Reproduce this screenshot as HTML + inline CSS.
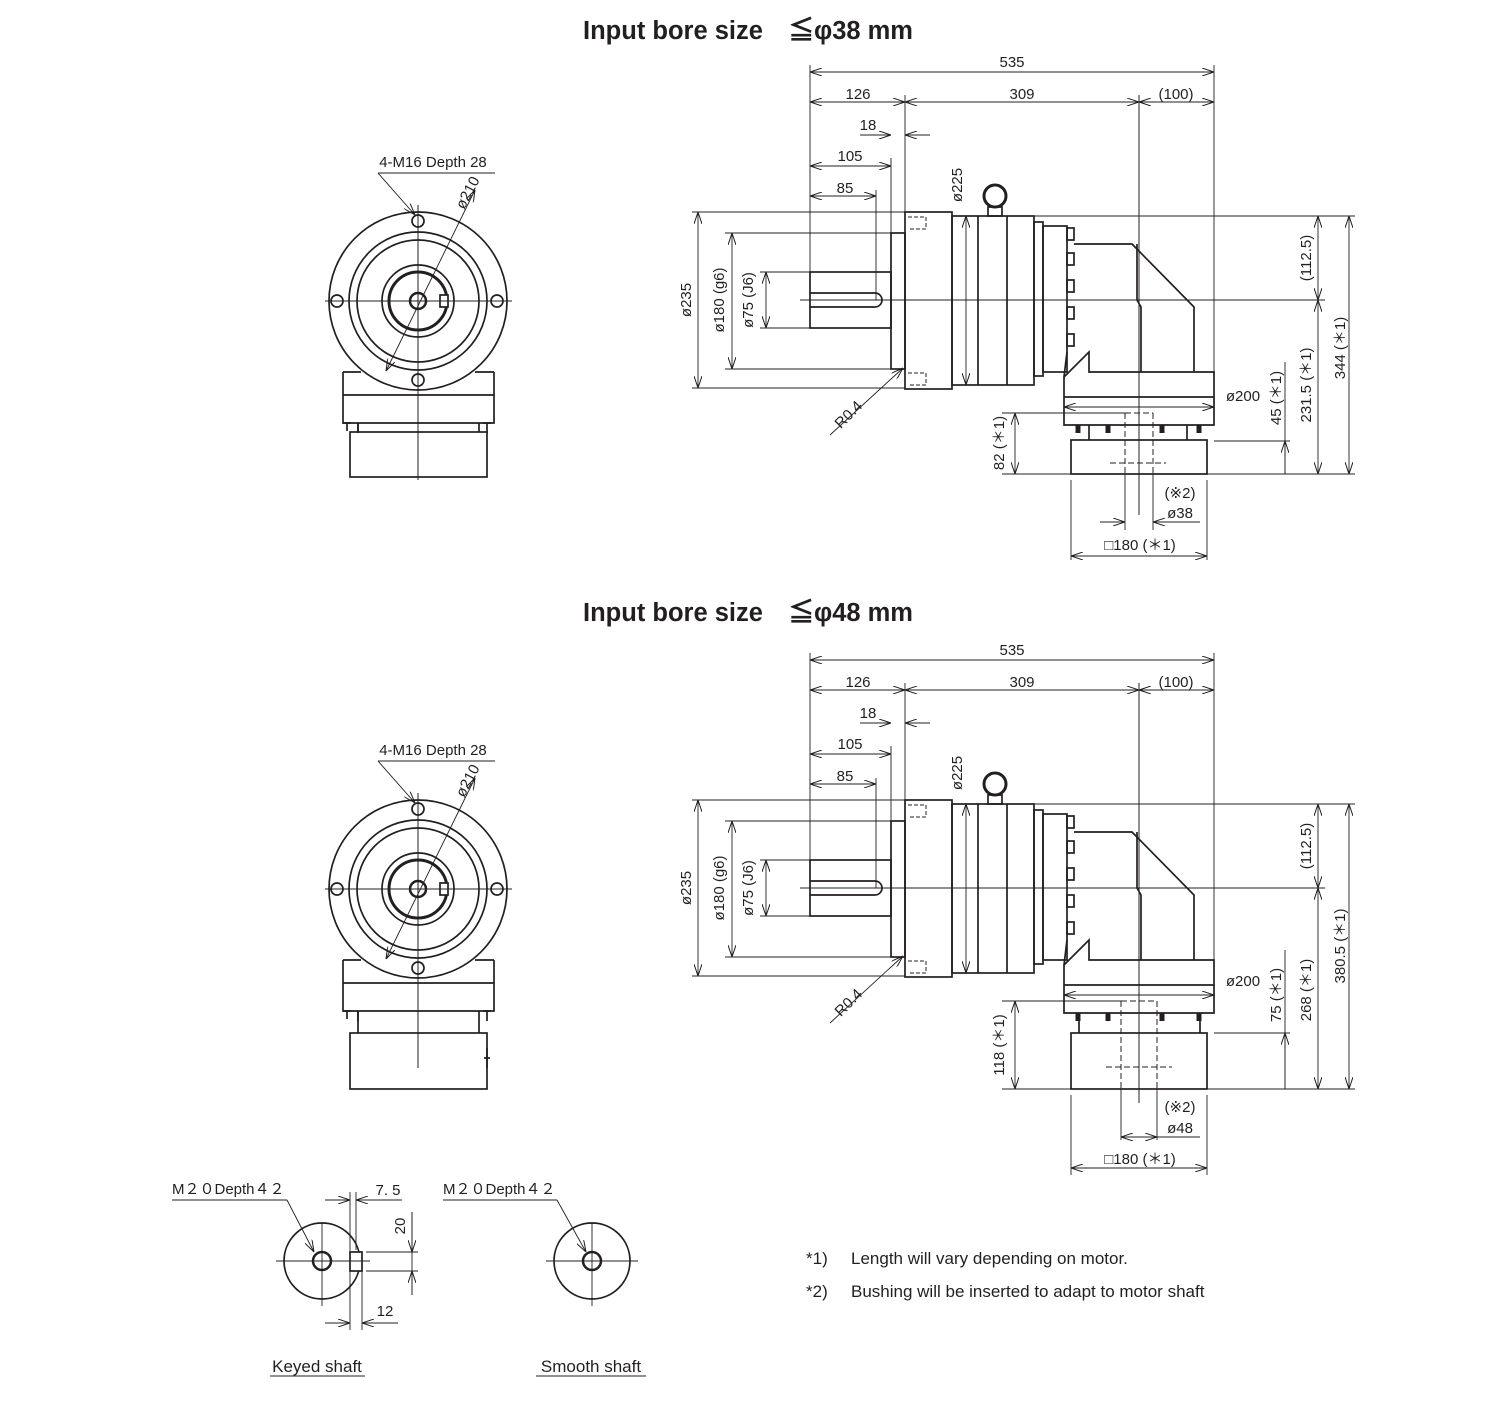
<!DOCTYPE html>
<html><head><meta charset="utf-8"><style>
html,body{margin:0;padding:0;background:#fff}
svg{display:block}
text{font-family:"Liberation Sans",sans-serif;fill:#231f20}
.d{font-size:15px}
.t{font-size:25.5px;font-weight:bold}
.n{font-size:17px}
.dd{marker-start:url(#a);marker-end:url(#a)}
.de{marker-end:url(#a)}
</style></head><body>
<svg width="1500" height="1404" viewBox="0 0 1500 1404" xmlns="http://www.w3.org/2000/svg">
<defs>
<marker id="a" viewBox="0 0 12 8" refX="12" refY="4" markerWidth="12" markerHeight="8" markerUnits="userSpaceOnUse" orient="auto-start-reverse"><path d="M0,0 L12,4 L0,8" fill="none" stroke="#231f20" stroke-width="1"/></marker>
<g id="common" fill="none" stroke="#231f20">
 <g stroke-width="1.7">
  <circle cx="418" cy="301" r="89"/>
  <circle cx="418" cy="301" r="69"/>
  <circle cx="418" cy="301" r="61"/>
  <circle cx="418" cy="301" r="36"/>
  <circle cx="418" cy="301" r="29" stroke-width="3"/>
  <circle cx="418" cy="301" r="8" stroke-width="2.5"/>
  <circle cx="418" cy="221" r="6"/><circle cx="418" cy="380" r="6"/>
  <circle cx="337" cy="301" r="6"/><circle cx="497" cy="301" r="6"/>
  <rect x="440" y="295" width="8" height="12" fill="#fff"/>
  <path d="M343,372 H361 M475,372 H494 M343,372 V423 H494 V372 M343,395 H494"/>
  <path d="M347,423 v8 M358,423 v10 M487,423 v10 M343,423 h8 M483,423 h8"/>
 </g>
 <path d="M418,205 V480 M325,301 H512" stroke-width="1"/>
 <path d="M378,173 H495" stroke-width="0.9"/>
 <path d="M378,173 L415,215" class="de" stroke-width="0.9"/>
 <path d="M386,371 L475,190" class="dd" stroke-width="0.9"/>
 <g stroke-width="1.7">
  <rect x="810" y="272" width="81" height="56"/>
  <path d="M810,293 H875 A7,7 0 0 1 875,307 H810"/>
  <rect x="891" y="233" width="14" height="136"/>
  <rect x="905" y="212" width="47" height="177"/>
  <rect x="952" y="216" width="82" height="169"/>
  <path d="M978,216 V385 M1007,216 V385"/>
  <circle cx="995" cy="196" r="11" stroke-width="3"/>
  <rect x="988" y="207" width="14" height="9"/>
  <rect x="1034" y="222" width="9" height="154"/>
  <rect x="1043" y="226" width="24" height="146"/>
  <rect x="1067" y="228" width="7" height="12"/><rect x="1067" y="253" width="7" height="12"/>
  <rect x="1067" y="280" width="7" height="12"/><rect x="1067" y="307" width="7" height="12"/>
  <rect x="1067" y="334" width="7" height="12"/>
  <path d="M1074,244 H1132 L1194,307 V372 H1214 V425 H1064 V377 L1089,352 V372 H1194"/>
  <path d="M1137,244 V300 L1141,307 V372"/>
  <path d="M1064,397 H1214"/>
  <path d="M1067,352 L1064,377"/>
 </g>
 <path d="M908,217 h18 v12 h-18 M908,373 h18 v12 h-18" stroke-dasharray="4,2"/>
 <path d="M800,300 H1325 M1139,95 V515" stroke-width="1"/>
 <g stroke-width="0.9">
  <path d="M810,65 V272 M891,158 V233 M905,95 V212 M1214,65 V425 M692,212 H905 M725,233 H891 M760,272 H810 M692,388 H905 M725,369 H891 M760,328 H810 M1034,216 H1355 M876,190 V300"/>
  <path class="dd" d="M810,72 H1214"/>
  <path class="dd" d="M810,102 H905"/>
  <path class="dd" d="M905,102 H1139"/>
  <path class="dd" d="M1139,102 H1214"/>
  <path class="dd" d="M810,166 H891"/>
  <path class="dd" d="M810,196 H876"/>
  <path class="dd" d="M698,212 V388"/>
  <path class="dd" d="M732,233 V369"/>
  <path class="dd" d="M766,272 V328"/>
  <path class="dd" d="M966,216 V385"/>
  <path class="dd" d="M1318,216 V300"/>
  <path class="dd" d="M1064,407 H1214"/>
  <path class="de" d="M860,135 H891"/>
  <path class="de" d="M930,135 H905"/>
  <path class="de" d="M830,435 L903,368"/>
 </g>
</g>
</defs>

<text class="t" x="748" y="39" text-anchor="middle">Input bore size　≦φ38 mm</text>
<text class="t" x="748" y="621" text-anchor="middle">Input bore size　≦φ48 mm</text>

<use href="#common"/>
<use href="#common" y="588"/>

<g fill="none" stroke="#231f20" stroke-width="1.7">
 <path d="M358,423 V432 M479,423 V432"/><rect x="350" y="432" width="137" height="45"/>
 <path d="M1089,425 V440 M1187,425 V440"/><rect x="1071" y="440" width="136" height="34"/>
 <path d="M1078,425 v8 M1108,425 v8 M1162,425 v8 M1199,425 v8" stroke-width="5"/>
 <path d="M1125,413 V474 M1153,413 V474 M1125,413 H1153 M1110,463 H1166" stroke-width="1" stroke-dasharray="6,3"/>
 <g stroke-width="0.9">
  <path d="M1207,474 H1355 M1002,413 H1125 M1002,474 H1071 M1071,480 V560 M1207,480 V560 M1125,474 V530 M1153,474 V530 M1285,362 V474 M1214,441 H1290"/>
  <path class="dd" d="M1318,300 V474"/>
  <path class="dd" d="M1349,216 V474"/>
  <path class="dd" d="M1015,413 V474"/>
  <path class="dd" d="M1071,556 H1207"/>
  <path class="de" d="M1285,474 V441"/>
  <path class="de" d="M1100,522 H1125"/>
  <path class="de" d="M1200,522 H1153"/>
 </g>
</g>
<g fill="none" stroke="#231f20" stroke-width="1.7">
 <path d="M358,1011 V1033 M479,1011 V1033"/><rect x="350" y="1033" width="137" height="56"/>
 <path d="M484,1058 H490 M487,1048 V1068"/>
 <path d="M1079,1013 V1033 M1200,1013 V1033"/><rect x="1071" y="1033" width="136" height="56"/>
 <path d="M1078,1013 v8 M1108,1013 v8 M1162,1013 v8 M1199,1013 v8" stroke-width="5"/>
 <path d="M1121,1001 V1089 M1157,1001 V1089 M1121,1001 H1157 M1106,1067 H1172" stroke-width="1" stroke-dasharray="6,3"/>
 <g stroke-width="0.9">
  <path d="M1207,1089 H1355 M1002,1001 H1121 M1002,1089 H1071 M1071,1095 V1175 M1207,1095 V1175 M1121,1089 V1140 M1157,1089 V1140 M1285,950 V1089 M1214,1033 H1290"/>
  <path class="dd" d="M1318,888 V1089"/>
  <path class="dd" d="M1349,804 V1089"/>
  <path class="dd" d="M1015,1001 V1089"/>
  <path class="dd" d="M1071,1168 H1207"/>
  <path class="de" d="M1285,1089 V1033"/>
  <path class="dd" d="M1121,1137 H1157"/>
  <path d="M1200,1137 H1157"/>
 </g>
</g>

<g class="d">
 <text x="1012" y="67" text-anchor="middle">535</text>
 <text x="858" y="99" text-anchor="middle">126</text>
 <text x="1022" y="99" text-anchor="middle">309</text>
 <text x="1176" y="99" text-anchor="middle">(100)</text>
 <text x="868" y="130" text-anchor="middle">18</text>
 <text x="850" y="161" text-anchor="middle">105</text>
 <text x="845" y="193" text-anchor="middle">85</text>
 <text transform="translate(691,300) rotate(-90)" text-anchor="middle">ø235</text>
 <text transform="translate(724,300) rotate(-90)" text-anchor="middle">ø180 (g6)</text>
 <text transform="translate(753,300) rotate(-90)" text-anchor="middle">ø75 (J6)</text>
 <text transform="translate(962,185) rotate(-90)" text-anchor="middle">ø225</text>
 <text transform="translate(1311,258) rotate(-90)" text-anchor="middle">(112.5)</text>
 <text transform="translate(1311,385) rotate(-90)" text-anchor="middle">231.5 (＊1)</text>
 <text transform="translate(1345,348) rotate(-90)" text-anchor="middle">344 (＊1)</text>
 <text transform="translate(1281,398) rotate(-90)" text-anchor="middle">45 (＊1)</text>
 <text transform="translate(1004,443) rotate(-90)" text-anchor="middle">82 (＊1)</text>
 <text x="1243" y="401" text-anchor="middle">ø200</text>
 <text x="1180" y="498" text-anchor="middle">(※2)</text>
 <text x="1180" y="518" text-anchor="middle">ø38</text>
 <text x="1140" y="550" text-anchor="middle">□180 (＊1)</text>
 <text transform="translate(852,418) rotate(-45)" text-anchor="middle">R0.4</text>
 <text x="433" y="167" text-anchor="middle">4-M16 Depth 28</text>
 <text transform="translate(472,195) rotate(-62)" text-anchor="middle">ø210</text>

 <text x="1012" y="655" text-anchor="middle">535</text>
 <text x="858" y="687" text-anchor="middle">126</text>
 <text x="1022" y="687" text-anchor="middle">309</text>
 <text x="1176" y="687" text-anchor="middle">(100)</text>
 <text x="868" y="718" text-anchor="middle">18</text>
 <text x="850" y="749" text-anchor="middle">105</text>
 <text x="845" y="781" text-anchor="middle">85</text>
 <text transform="translate(691,888) rotate(-90)" text-anchor="middle">ø235</text>
 <text transform="translate(724,888) rotate(-90)" text-anchor="middle">ø180 (g6)</text>
 <text transform="translate(753,888) rotate(-90)" text-anchor="middle">ø75 (J6)</text>
 <text transform="translate(962,773) rotate(-90)" text-anchor="middle">ø225</text>
 <text transform="translate(1311,846) rotate(-90)" text-anchor="middle">(112.5)</text>
 <text transform="translate(1311,990) rotate(-90)" text-anchor="middle">268 (＊1)</text>
 <text transform="translate(1345,946) rotate(-90)" text-anchor="middle">380.5 (＊1)</text>
 <text transform="translate(1281,995) rotate(-90)" text-anchor="middle">75 (＊1)</text>
 <text transform="translate(1004,1045) rotate(-90)" text-anchor="middle">118 (＊1)</text>
 <text x="1243" y="986" text-anchor="middle">ø200</text>
 <text x="1180" y="1112" text-anchor="middle">(※2)</text>
 <text x="1180" y="1133" text-anchor="middle">ø48</text>
 <text x="1140" y="1164" text-anchor="middle">□180 (＊1)</text>
 <text transform="translate(852,1006) rotate(-45)" text-anchor="middle">R0.4</text>
 <text x="433" y="755" text-anchor="middle">4-M16 Depth 28</text>
 <text transform="translate(472,783) rotate(-62)" text-anchor="middle">ø210</text>

 <text x="172" y="1194">M２０Depth４２</text>
 <text x="443" y="1194">M２０Depth４２</text>
 <text x="388" y="1195" text-anchor="middle">7. 5</text>
 <text transform="translate(405,1226) rotate(-90)" text-anchor="middle">20</text>
 <text x="385" y="1316" text-anchor="middle">12</text>
</g>

<g fill="none" stroke="#231f20">
 <g stroke-width="1.7">
  <circle cx="322" cy="1261" r="38"/>
  <circle cx="322" cy="1261" r="9" stroke-width="2.5"/>
  <rect x="350" y="1252" width="12" height="19" fill="#fff"/>
  <circle cx="592" cy="1261" r="38"/>
  <circle cx="592" cy="1261" r="9" stroke-width="2.5"/>
 </g>
 <g stroke-width="0.9">
  <path d="M276,1261 H370 M322,1223 V1306 M546,1261 H638 M592,1223 V1306"/>
  <path d="M350,1192 V1330 M356,1192 V1250 M362,1262 V1330 M366,1252 H418 M366,1271 H418 M412,1212 V1295 M375,1200 H402 M398,1323 H398"/>
  <path d="M172,1200 H287"/><path class="de" d="M287,1200 L314,1252"/>
  <path d="M443,1200 H557"/><path class="de" d="M557,1200 L586,1252"/>
  <path class="de" d="M325,1200 H350"/>
  <path class="de" d="M402,1200 H356"/>
  <path class="de" d="M325,1323 H350"/>
  <path class="de" d="M398,1323 H362"/>
  <path class="de" d="M412,1212 V1252"/>
  <path class="de" d="M412,1295 V1271"/>
 </g>
 <path d="M270,1376 H365 M536,1376 H646" stroke-width="1"/>
</g>
<text x="317" y="1372" text-anchor="middle" style="font-size:17px">Keyed shaft</text>
<text x="591" y="1372" text-anchor="middle" style="font-size:17px">Smooth shaft</text>
<text class="n" x="806" y="1264">*1)</text>
<text class="n" x="851" y="1264">Length will vary depending on motor.</text>
<text class="n" x="806" y="1297">*2)</text>
<text class="n" x="851" y="1297">Bushing will be inserted to adapt to motor shaft</text>
</svg>
</body></html>
